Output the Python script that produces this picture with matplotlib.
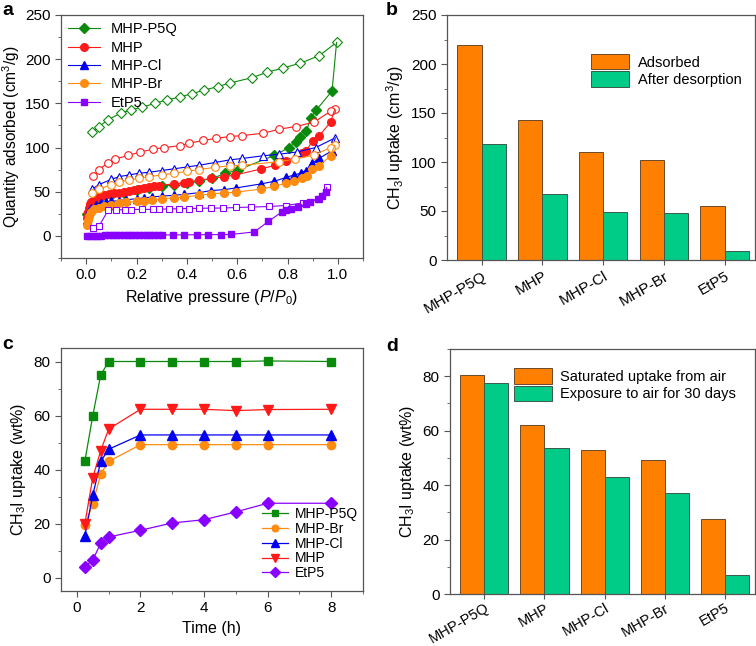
import matplotlib.pyplot as plt
from matplotlib.lines import Line2D
from matplotlib.ticker import MultipleLocator
import numpy as np

plt.rcParams['font.family'] = ['Liberation Sans', 'DejaVu Sans']
plt.rcParams['mathtext.fontset'] = 'custom'
plt.rcParams['mathtext.rm'] = 'Liberation Sans'
plt.rcParams['mathtext.it'] = 'Liberation Sans:italic'

# ---- panel a: isotherms (adsorption = filled, desorption = open)
p5q_ads_x = [0.005, 0.02, 0.05, 0.1, 0.15, 0.2, 0.25, 0.3, 0.35, 0.4, 0.45, 0.5, 0.553, 0.602,
             0.747, 0.806, 0.833, 0.851, 0.875, 0.892, 0.915, 0.977]
p5q_ads_y = [25, 36, 42, 46, 49, 52, 54, 56, 58, 60, 62, 65, 70.8, 74.5,
             91, 100, 106, 112.5, 118.8, 133, 142.7, 164]
p5q_des_x = [0.995, 0.926, 0.851, 0.782, 0.717, 0.658, 0.571, 0.522, 0.47, 0.42, 0.371, 0.322,
             0.272, 0.222, 0.178, 0.137, 0.088, 0.051, 0.025]
p5q_des_y = [219, 204, 195.5, 190, 185, 179, 173, 169, 165, 161, 157, 154,
             150, 145.5, 142.5, 139, 131.6, 123.7, 118]

mhp_ads_x = [0.003, 0.006, 0.01, 0.015, 0.02, 0.03, 0.04, 0.05, 0.07, 0.09, 0.11, 0.13, 0.15, 0.17,
             0.19, 0.21, 0.23, 0.25, 0.27, 0.29, 0.35, 0.39, 0.41, 0.45, 0.496, 0.549, 0.593, 0.694,
             0.751, 0.796, 0.856, 0.872, 0.901, 0.927, 0.971]
mhp_ads_y = [20, 27, 32, 36, 38, 41, 43, 44, 46, 47, 48, 49, 50, 51,
             52, 53, 54, 55, 56, 57, 59, 60, 61, 63, 65, 67, 69, 75.7,
             80, 84.8, 93.5, 96, 107.5, 113.6, 128.7]
mhp_des_x = [0.988, 0.971, 0.905, 0.833, 0.767, 0.704, 0.621, 0.57, 0.517, 0.466, 0.41, 0.371,
             0.308, 0.266, 0.213, 0.167, 0.115, 0.088, 0.051, 0.029]
mhp_des_y = [143.5, 141, 128.7, 123.8, 120.8, 116.2, 113.6, 112.4, 110.5, 108, 105, 102,
             100, 98, 95, 91, 87, 83, 75, 67.5]

cl_ads_x = [0.003, 0.01, 0.02, 0.04, 0.06, 0.08, 0.1, 0.13, 0.16, 0.2, 0.23, 0.26, 0.3, 0.35, 0.39,
            0.45, 0.496, 0.549, 0.595, 0.694, 0.747, 0.796, 0.826, 0.853, 0.872, 0.899, 0.925, 0.975]
cl_ads_y = [18, 28, 32, 35, 37, 38, 39, 40, 41, 42, 43, 44, 45, 46, 47,
            49, 51.3, 52.4, 54.3, 58.8, 61.8, 66.3, 69, 71, 73.8, 82.4, 87.7, 96]
cl_des_x = [0.99, 0.912, 0.839, 0.767, 0.701, 0.621, 0.57, 0.51, 0.45, 0.4, 0.35, 0.3, 0.25,
            0.21, 0.17, 0.13, 0.1, 0.05, 0.025]
cl_des_y = [111, 100, 95, 92.5, 90.6, 87.7, 86, 83, 80, 78, 76, 74, 72,
            71, 69, 67, 64, 58, 53]

br_ads_x = [0.003, 0.006, 0.01, 0.02, 0.03, 0.05, 0.07, 0.1, 0.13, 0.16, 0.2, 0.23, 0.26, 0.3, 0.35,
            0.39, 0.45, 0.496, 0.549, 0.595, 0.694, 0.747, 0.796, 0.826, 0.856, 0.879, 0.899, 0.925, 0.971]
br_ads_y = [12, 18, 22, 27, 30, 32, 34, 35, 37, 38, 39, 40, 41, 42, 43,
            44, 46, 47.5, 48.7, 49.5, 53, 56, 60, 62.5, 65, 68, 75.6, 79.4, 90.6]
br_des_x = [0.988, 0.971, 0.905, 0.83, 0.767, 0.621, 0.57, 0.51, 0.45, 0.4, 0.35, 0.3, 0.25,
            0.21, 0.17, 0.13, 0.1, 0.05, 0.025]
br_des_y = [102.6, 100, 91.4, 87, 84, 80, 79.4, 77.6, 75, 73, 71, 69, 67,
            65, 63, 61, 58, 53, 48]

etp5_ads_x = [0.003, 0.015, 0.03, 0.045, 0.06, 0.075, 0.09, 0.105, 0.12, 0.135, 0.15, 0.165, 0.18,
              0.195, 0.21, 0.225, 0.24, 0.255, 0.27, 0.285, 0.3, 0.345, 0.39, 0.44, 0.485, 0.535,
              0.574, 0.668, 0.724, 0.777, 0.796, 0.813, 0.843, 0.874, 0.891, 0.922, 0.937, 0.951]
etp5_ads_y = [0, 0.2, 0.3, 0.4, 0.4, 0.5, 0.5, 0.5, 0.6, 0.6, 0.6, 0.7, 0.7,
              0.7, 0.8, 0.8, 0.8, 0.9, 0.9, 1.0, 1.0, 1.1, 1.2, 1.3, 1.4, 1.5,
              1.6, 4.5, 16.4, 27, 28.8, 30.7, 32.6, 36.3, 38.2, 42, 45.6, 50]
etp5_des_x = [0.956, 0.925, 0.862, 0.793, 0.727, 0.655, 0.597, 0.543, 0.498, 0.45, 0.41, 0.37,
              0.33, 0.29, 0.266, 0.22, 0.18, 0.154, 0.12, 0.088, 0.051, 0.029]
etp5_des_y = [55, 42, 37.4, 34.4, 33.3, 32.6, 32.2, 31.5, 31.5, 31.2, 31, 30.8,
              30.5, 30.3, 30, 30, 29.8, 29.7, 29.5, 29.5, 10.9, 8.5]

# ---- panels b / d: bars
samples = ['MHP-P5Q', 'MHP', 'MHP-Cl', 'MHP-Br', 'EtP5']
adsorbed = [219, 143, 110, 102.5, 55]
after_desorption = [118, 67, 48.5, 48, 9.5]
saturated_air = [80.3, 62.2, 52.9, 49.3, 27.6]
exposure_30d = [77.5, 53.8, 43, 37, 7]

# ---- panel c: kinetics
time_h = [0.25, 0.5, 0.75, 1, 2, 3, 4, 5, 6, 8]
kin_p5q = [43, 60, 75, 80, 80, 80, 80, 80, 80.2, 80]
kin_br = [19.3, 27.3, 38.3, 43, 49.2, 49.2, 49.2, 49.2, 49.2, 49.2]
kin_cl = [15.5, 30.5, 43, 47.5, 52.8, 52.8, 52.8, 52.8, 52.8, 52.8]
kin_mhp = [20, 37, 47, 55, 62.3, 62.3, 62.3, 61.8, 62.2, 62.3]
kin_etp5 = [4, 6.5, 12.7, 15, 17.5, 20.2, 21.4, 24.3, 27.5, 27.5]

GREEN = '#0a8a0a'
RED = '#ff1a1a'
BLUE = '#0000ee'
ORANGE = '#ff8c10'
PURPLE = '#8a00ff'
BAR_OR = '#ff7f00'
BAR_GR = '#00cc88'
SPINE = '#555555'

W, H = 756, 646
fig = plt.figure(figsize=(W / 100, H / 100), dpi=100)


def add_ax(l, t, r, b):
    return fig.add_axes([l / W, 1 - b / H, (r - l) / W, (b - t) / H])


def style(ax):
    for s in ax.spines.values():
        s.set_color(SPINE)
        s.set_linewidth(0.9)
    ax.tick_params(which='both', direction='out', color=SPINE, labelsize=11,
                   top=False, right=False)
    ax.tick_params(which='major', length=4)
    ax.tick_params(which='minor', length=2.5)


ax_a = add_ax(61, 15, 363, 258)
ax_b = add_ax(447, 15, 755, 260)
ax_c = add_ax(61, 348, 363, 591)
ax_d = add_ax(450, 349, 755, 594)

# ---------------- a
series_a = [
    ('MHP-P5Q', GREEN, 'D', 5, p5q_ads_x, p5q_ads_y, p5q_des_x, p5q_des_y),
    ('MHP', RED, 'o', 5.5, mhp_ads_x, mhp_ads_y, mhp_des_x, mhp_des_y),
    ('MHP-Cl', BLUE, '^', 6, cl_ads_x, cl_ads_y, cl_des_x, cl_des_y),
    ('MHP-Br', ORANGE, 'o', 5.5, br_ads_x, br_ads_y, br_des_x, br_des_y),
    ('EtP5', PURPLE, 's', 5, etp5_ads_x, etp5_ads_y, etp5_des_x, etp5_des_y),
]
handles = []
for name, c, m, ms, ax_x, ax_y, dx, dy in series_a:
    ax_a.plot(dx, dy, color=c, lw=0.8, marker=m, ms=ms, mfc='white', mec=c, mew=0.8)
    ax_a.plot(ax_x + [dx[0]], ax_y + [dy[0]], color=c, lw=0.8)
    ax_a.plot(ax_x, ax_y, ls='none', marker=m, ms=ms, mfc=c, mec=c)
    handles.append(Line2D([], [], color=c, lw=0.8, marker=m, ms=ms, mfc=c, mec=c))

ax_a.set_xlim(-0.1, 1.1)
ax_a.set_ylim(-25, 250)
ax_a.xaxis.set_major_locator(MultipleLocator(0.2))
ax_a.xaxis.set_minor_locator(MultipleLocator(0.1))
ax_a.yaxis.set_major_locator(MultipleLocator(50))
ax_a.yaxis.set_minor_locator(MultipleLocator(25))
ax_a.set_xlabel(r'Relative pressure ($P$/$P_0$)', fontsize=11.5)
ax_a.set_ylabel(r'Quantity adsorbed (cm$^3$/g)', fontsize=11.2, labelpad=2)
ax_a.legend(handles, [s[0] for s in series_a], loc='upper left', frameon=False,
            fontsize=10.5, handlelength=2.2, handletextpad=0.7, labelspacing=0.3,
            borderaxespad=0.1, bbox_to_anchor=(0.0, 1.0))
style(ax_a)

# ---------------- b / d
def bars(ax, v1, v2, lab1, lab2, anchor):
    x = np.arange(len(samples))
    ax.bar(x - 0.2, v1, width=0.4, color=BAR_OR, edgecolor='#6b4a2a', lw=0.7, label=lab1)
    ax.bar(x + 0.2, v2, width=0.4, color=BAR_GR, edgecolor='#3b5a4a', lw=0.7, label=lab2)
    ax.set_xticks(x)
    ax.set_xticklabels(samples, rotation=30, ha='right', rotation_mode='anchor')
    ax.set_xlim(-0.57, 4.5)
    ax.legend(loc='upper left', bbox_to_anchor=anchor, frameon=False, fontsize=10.5,
              handlelength=2.6, handleheight=1.25, handletextpad=0.6, labelspacing=0.12,
              borderaxespad=0)
    style(ax)
    ax.tick_params(axis='x', length=3.5, pad=3)


bars(ax_b, adsorbed, after_desorption, 'Adsorbed', 'After desorption', (0.45, 0.865))
ax_b.set_ylim(0, 250)
ax_b.yaxis.set_major_locator(MultipleLocator(50))
ax_b.yaxis.set_minor_locator(MultipleLocator(25))
ax_b.set_ylabel(r'CH$_3$I uptake (cm$^3$/g)', fontsize=11.5)

bars(ax_d, saturated_air, exposure_30d, 'Saturated uptake from air',
     'Exposure to air for 30 days', (0.19, 0.945))
ax_d.tick_params(axis='x', pad=1.5, labelsize=10.5)
ax_d.set_ylim(0, 90)
ax_d.yaxis.set_major_locator(MultipleLocator(20))
ax_d.yaxis.set_minor_locator(MultipleLocator(10))
ax_d.set_ylabel(r'CH$_3$I uptake (wt%)', fontsize=11.5)

# ---------------- c
series_c = [
    ('MHP-P5Q', GREEN, 's', 6, kin_p5q),
    ('MHP-Br', ORANGE, 'o', 6, kin_br),
    ('MHP-Cl', BLUE, '^', 7, kin_cl),
    ('MHP', RED, 'v', 7, kin_mhp),
    ('EtP5', PURPLE, 'D', 6, kin_etp5),
]
for name, c, m, ms, y in series_c:
    ax_c.plot(time_h, y, color=c, lw=0.9, marker=m, ms=ms, mfc=c, mec=c, label=name)
ax_c.set_xlim(-0.5, 9)
ax_c.set_ylim(-5, 85)
ax_c.xaxis.set_major_locator(MultipleLocator(2))
ax_c.xaxis.set_minor_locator(MultipleLocator(1))
ax_c.yaxis.set_major_locator(MultipleLocator(20))
ax_c.yaxis.set_minor_locator(MultipleLocator(10))
ax_c.set_xlabel('Time (h)', fontsize=11.5)
ax_c.set_ylabel(r'CH$_3$I uptake (wt%)', fontsize=11.5)
ax_c.legend(loc='lower left', frameon=False, fontsize=10, handlelength=1.9,
            handletextpad=0.45, labelspacing=0.05, borderaxespad=0, borderpad=0,
            markerscale=0.8, bbox_to_anchor=(0.665, 0.045))
style(ax_c)

for lab, x, y in [('a', 2, 2), ('b', 386, 2), ('c', 2, 336), ('d', 386, 338)]:
    fig.text(x / W, 1 - y / H, lab, fontsize=14, fontweight='bold', va='top', ha='left')

fig.savefig('out.png', dpi=100)
